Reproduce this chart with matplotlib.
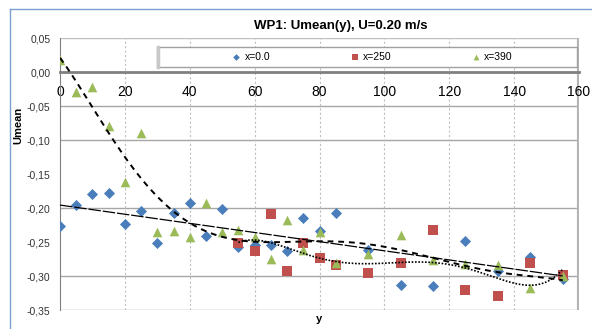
import matplotlib.pyplot as plt
import numpy as np
from matplotlib.patches import Rectangle

plt.rcParams['font.family'] = ['Liberation Sans', 'DejaVu Sans']

# y positions of the measurements
xs = [0, 5, 10, 15, 20, 25, 30, 35, 40, 45, 50, 55, 60, 65, 70, 75, 80, 85, 95, 105, 115, 125, 135, 145, 155]
# x=0.0
blue = [-0.227, -0.196, -0.180, -0.178, -0.224, -0.204, -0.252, -0.208, -0.192, -0.241, -0.201, -0.257, -0.255,
        -0.254, -0.263, -0.215, -0.234, -0.207, -0.262, -0.313, -0.314, -0.249, -0.292, -0.272, -0.305]
# x=390
green = [0.018, -0.029, -0.022, -0.080, -0.162, -0.089, -0.236, -0.234, -0.243, -0.193, -0.236, -0.233, -0.243,
         -0.275, -0.218, -0.262, -0.236, -0.281, -0.267, -0.240, -0.277, -0.282, -0.284, -0.318, -0.300]
# x=250
xr = [55, 60, 65, 70, 75, 80, 85, 95, 105, 115, 125, 135, 145, 155]
red = [-0.251, -0.263, -0.209, -0.293, -0.252, -0.274, -0.284, -0.296, -0.281, -0.232, -0.320, -0.329, -0.281, -0.299]

yticks = [0.05, 0.0, -0.05, -0.10, -0.15, -0.20, -0.25, -0.30, -0.35]
xticks = [0, 20, 40, 60, 80, 100, 120, 140, 160]

fig = plt.figure(figsize=(5.92, 3.29), dpi=100)
ax = fig.add_axes([60 / 592, 1 - 310 / 329, 519 / 592, 272 / 329])

# chart frame (blue, top and left)
fig.add_artist(plt.Line2D([10 / 592, 1], [1 - 9 / 329] * 2, color='#7a9fd0', lw=1))
fig.add_artist(plt.Line2D([10 / 592] * 2, [0, 1 - 9 / 329], color='#7a9fd0', lw=1))

# grid
for v in [-0.05, -0.10, -0.20, -0.30]:
    ax.axhline(v, color='#a6a6a6', lw=1, zorder=0)
ax.axhline(0.05, color='#bfbfbf', lw=1, zorder=0)
ax.axhline(-0.35, color='#a6a6a6', lw=1, zorder=0)
for v in xticks[1:-1]:
    ax.axvline(v, color='#bfbfbf', lw=0.8, ls=(0, (2, 2)), zorder=0)
ax.axvline(160, color='#b4b4b4', lw=3, zorder=0)

# markers
ax.scatter(xs, blue, marker='D', s=32, color='#4a7ebb', zorder=3, label='x=0.0', linewidths=0)
ax.scatter(xr, red, marker='s', s=48, color='#c0504d', zorder=3, label='x=250', linewidths=0)
ax.scatter(xs, green, marker='^', s=48, color='#9bbb59', zorder=3, label='x=390', linewidths=0)

# trendlines
t = np.linspace(0, 155, 300)
p_lin = np.polyfit(xs, blue, 1)
ax.plot(t, np.polyval(p_lin, t), color='black', lw=0.9, ls=(0, (10, 1.5)), zorder=4)
p_g = np.polyfit(xs, green, 6)
ax.plot(t, np.polyval(p_g, t), color='black', lw=1.4, ls=(0, (3, 2.5)), zorder=4)
t2 = np.linspace(55, 155, 300)
p_r = np.polyfit(xr, red, 5)
ax.plot(t2, np.polyval(p_r, t2), color='black', lw=1.2, ls=(0, (1, 1)), zorder=4)

ax.set_xlim(0, 160)
ax.set_ylim(-0.35, 0.05)
ax.set_xticks(xticks)
ax.set_yticks(yticks)
ax.set_yticklabels([('%.2f' % v).replace('.', ',') for v in yticks], fontsize=7.5, color='#333333')
ax.set_xticklabels([str(v) for v in xticks], fontsize=7.5, color='#333333')
ax.tick_params(length=0)
ax.tick_params(axis='y', pad=7)
ax.tick_params(axis='x', pad=9)

ax.spines['bottom'].set_position(('data', 0))
ax.spines['bottom'].set_color('#808080')
ax.spines['bottom'].set_linewidth(2)
ax.spines['left'].set_color('#808080')
ax.spines['top'].set_visible(False)
ax.spines['right'].set_visible(False)

fig.text(341 / 592, 1 - 26 / 329, 'WP1: Umean(y), U=0.20 m/s', ha='center', va='center',
         fontsize=9.5, fontweight='bold')
fig.text(18 / 592, 1 - 125 / 329, 'Umean', rotation=90, ha='center', va='center',
         fontsize=8, fontweight='bold')
fig.text(319 / 592, 1 - 319 / 329, 'y', ha='center', va='center', fontsize=8, fontweight='bold')

# legend box
fig.add_artist(Rectangle((157 / 592, 1 - 67 / 329), 420 / 592, 20 / 329, transform=fig.transFigure,
                         facecolor='white', edgecolor='#a0a0a0', lw=1, zorder=5))
fig.add_artist(plt.Line2D([158 / 592] * 2, [1 - 67 / 329, 1 - 47 / 329], color='#c8c8c8', lw=2.5, zorder=6))
leg = fig.legend(loc='center', bbox_to_anchor=(372 / 592, 1 - 57 / 329), ncol=3, fontsize=7.5,
                 frameon=False, handlelength=1, handletextpad=0.3, columnspacing=7.6, markerscale=0.6)
leg.set_zorder(7)

fig.savefig('out.png')
